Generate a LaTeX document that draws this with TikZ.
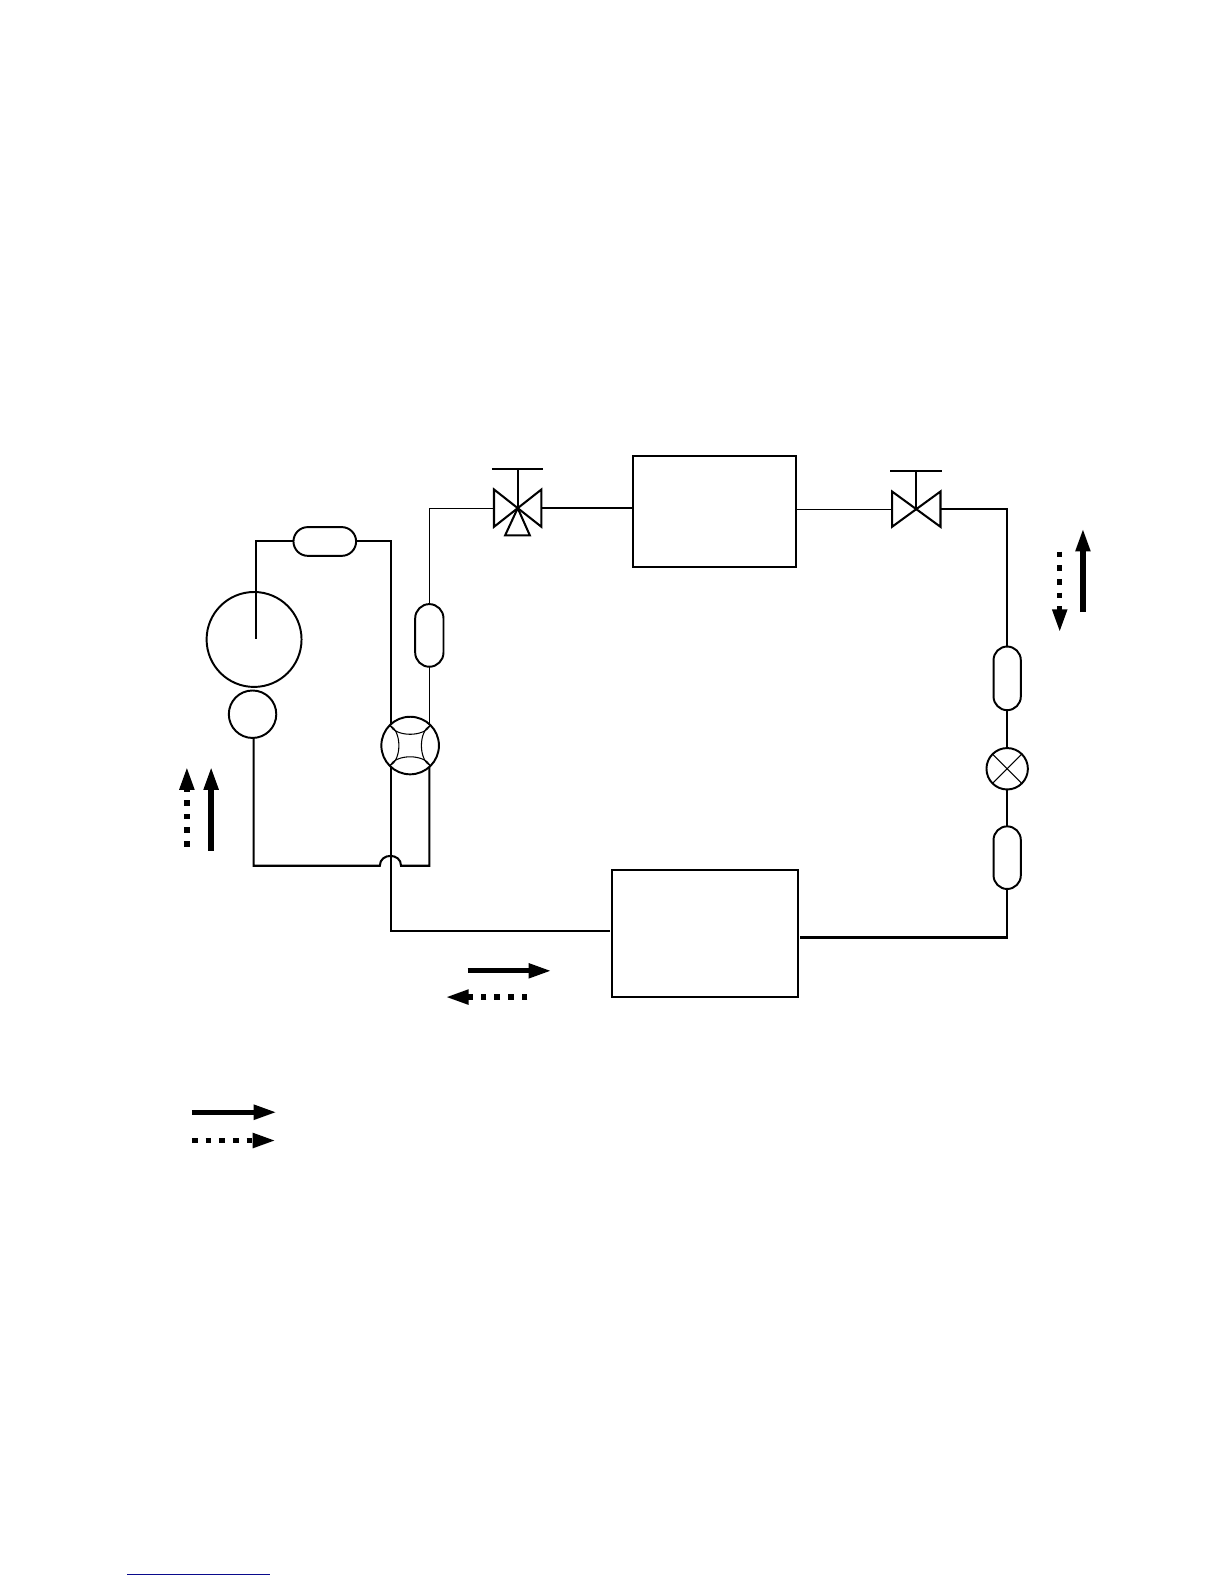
\documentclass[tikz,border=0pt]{standalone}
\usepackage{tikz}
\usetikzlibrary{arrows.meta,shapes.misc}
\definecolor{linkblue}{RGB}{10,10,140}
\tikzset{
  wire/.style={line width=1.15pt},
  thinwire/.style={line width=0.6pt},
  boxunit/.style={draw,line width=1.1pt,inner sep=0pt,outer sep=0pt},
  ballunit/.style={draw,circle,line width=1.1pt,inner sep=0pt,outer sep=0pt},
  filterv/.style={draw,rounded rectangle,rounded rectangle arc length=180,rotate=90,line width=1.1pt,inner sep=0pt,outer sep=0pt},
  filterh/.style={draw,rounded rectangle,line width=1.1pt,inner sep=0pt,outer sep=0pt,minimum width=35.3pt,minimum height=16.2pt},
  valveunit/.style={inner sep=0pt,outer sep=0pt},
  flowsolid/.style={line width=3pt,-{Triangle[length=13pt,width=7.8pt]}},
  flowdots/.style={line width=3pt,dash pattern=on 3.2pt off 4.5pt,-{Triangle[length=13pt,width=7.8pt]}}
}
\begin{document}
\begin{tikzpicture}[x=0.02cm,y=-0.02cm]
    \useasboundingbox (0,0) rectangle (1212,1568);
    \node[ballunit,minimum size=1.88cm] (compa) at (251.5,633) {};
    \node[ballunit,minimum size=0.94cm] (compb) at (250,707) {};
    \node[ballunit,minimum size=1.14cm] (wayv) at (406,738) {};
    \node[ballunit,minimum size=0.82cm] (expv) at (997,761) {};
    \node[filterh] (filtera) at (321.5,536) {};
    \node[filterv,minimum width=1.24cm,minimum height=0.56cm] (filterb) at (425,629) {};
    \node[filterv,minimum width=1.26cm,minimum height=0.54cm] (filterc) at (997,671.5) {};
    \node[filterv,minimum width=1.24cm,minimum height=0.54cm] (filterd) at (997,849) {};
    \node[boxunit,minimum width=3.22cm,minimum height=2.2cm] (boxa) at (707.5,506) {};
    \node[boxunit,minimum width=3.68cm,minimum height=2.52cm] (boxb) at (698,924) {};
    \node[valveunit,minimum width=0.94cm,minimum height=0.74cm] (valvea) at (512.5,503) {};
    \node[valveunit,minimum width=0.96cm,minimum height=0.7cm] (valveb) at (907,504) {};
    \coordinate (stema) at (512.5,464);
    \coordinate (stemb) at (907,466);
    \coordinate (bara1) at (487,464);
    \coordinate (bara2) at (538,464);
    \coordinate (barb1) at (881,466);
    \coordinate (barb2) at (932,466);
    \coordinate (porta1) at (500,530);
    \coordinate (porta2) at (524.5,530);
    \coordinate (compw) at (253.5,633);
    \coordinate (jumpa) at (376,857);
    \coordinate (jumpb) at (397,857);
    \coordinate (corner) at (251,857);
    \coordinate (cornerr) at (425,857);
    \coordinate (leftb) at (604,922);
    \coordinate (rightb) at (792,928);
    \draw[wire] (filtera.west) -| (compw);
    \draw[wire] (filtera.east) -| (wayv.132);
    \draw[thinwire] (filterb.west) -- (filterb.west |- wayv.48);
    \draw[thinwire] (filterb.east) |- (valvea.west);
    \draw[wire] (valvea.east) -- (boxa.west |- valvea.east);
    \draw[thinwire] (boxa.east |- valveb.west) -- (valveb.west);
    \draw[wire] (valveb.east) -| (filterc.east);
    \draw[wire] (filterc.west) -- (expv);
    \draw[wire] (expv) -- (filterd.east);
    \draw[wire] (filterd.west) |- (rightb);
    \draw[wire] (corner |- compb.south) -- (corner) -- (jumpa) .. controls +(0,-13) and +(0,-13) .. (jumpb) -- (cornerr) -- (cornerr |- wayv.312);
    \draw[wire] (wayv.228) |- (leftb);
    \draw[wire] (valvea.north west) -- (valvea.south east) -- (valvea.north east) -- (valvea.south west) -- cycle;
    \draw[wire] (valvea.center) -- (stema);
    \draw[wire] (bara1) -- (bara2);
    \draw[wire] (valvea.center) -- (porta1) -- (porta2) -- cycle;
    \draw[wire] (valveb.north west) -- (valveb.south east) -- (valveb.north east) -- (valveb.south west) -- cycle;
    \draw[wire] (valveb.center) -- (stemb);
    \draw[wire] (barb1) -- (barb2);
    \draw[thinwire] (expv.45) -- (expv.225);
    \draw[thinwire] (expv.135) -- (expv.315);
    \draw[thinwire] (wayv.135) .. controls +(6,12) and +(-6,12) .. (wayv.45);
    \draw[thinwire] (wayv.225) .. controls +(6,-12) and +(-6,-12) .. (wayv.315);
    \draw[thinwire] (wayv.135) .. controls +(12,6) and +(12,-6) .. (wayv.225);
    \draw[thinwire] (wayv.45) .. controls +(-12,6) and +(-12,-6) .. (wayv.315);
    \coordinate (dotl1) at (185,838);
    \coordinate (dotl2) at (185,759);
    \coordinate (sol1) at (209,842);
    \coordinate (sol2) at (209,759);
    \coordinate (dotr1) at (1049,546);
    \coordinate (dotr2) at (1049,626);
    \coordinate (sor1) at (1072,606);
    \coordinate (sor2) at (1072,523);
    \coordinate (sob1) at (463,961);
    \coordinate (sob2) at (546,961);
    \coordinate (dotb1) at (522,987);
    \coordinate (dotb2) at (441,987);
    \coordinate (sok1) at (190,1101);
    \coordinate (sok2) at (274,1101);
    \coordinate (dotk1) at (190,1129);
    \coordinate (dotk2) at (273,1129);
    \draw[flowdots] (dotl1) -- (dotl2);
    \draw[flowsolid] (sol1) -- (sol2);
    \draw[flowdots] (dotr1) -- (dotr2);
    \draw[flowsolid] (sor1) -- (sor2);
    \draw[flowsolid] (sob1) -- (sob2);
    \draw[flowdots] (dotb1) -- (dotb2);
    \draw[flowsolid] (sok1) -- (sok2);
    \draw[flowdots] (dotk1) -- (dotk2);
    \coordinate (linka) at (126,1559);
    \coordinate (linkb) at (267,1559);
    \draw[linkblue,line width=0.6pt] (linka) -- (linkb);
  \end{tikzpicture}
\end{document}
